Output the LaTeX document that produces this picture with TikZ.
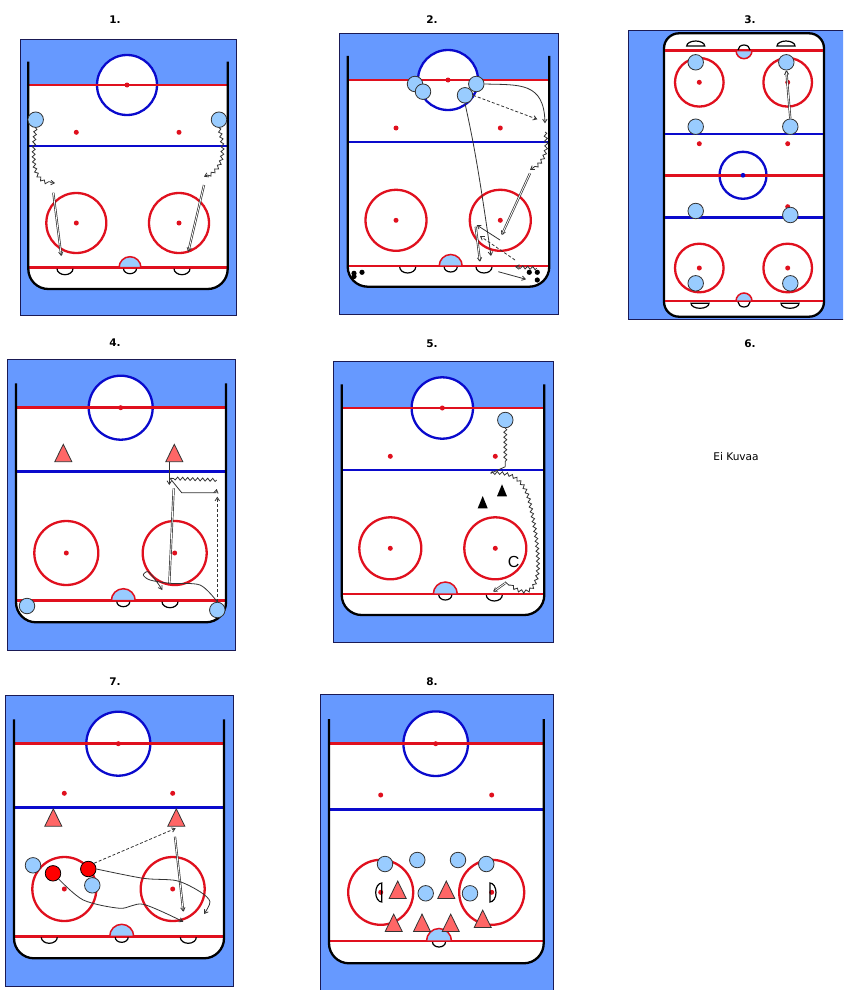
\documentclass[tikz,border=0pt]{standalone}
\usepackage{fontspec}
\setmainfont{DejaVu Sans}
\setsansfont{Liberation Sans}
\usetikzlibrary{arrows.meta,decorations.pathmorphing}
\definecolor{rinkbg}{HTML}{6699FF}
\definecolor{rinkedge}{HTML}{1A1A55}
\definecolor{rinkred}{HTML}{E0101E}
\definecolor{rinkblue}{HTML}{0A0ACC}
\definecolor{skater}{HTML}{99CCFF}
\definecolor{pylon}{HTML}{FF6666}
\definecolor{inkgrey}{HTML}{333333}

\tikzset{
  panel/.style={fill=rinkbg, draw=rinkedge, line width=0.9pt},
  boards/.style={draw=black, line width=2.3pt},
  redline/.style={draw=rinkred, line width=2.5pt},
  blueline/.style={draw=rinkblue, line width=2.5pt},
  ring/.style={draw=rinkred, line width=2.3pt},
  bluering/.style={draw=rinkblue, line width=2.3pt},
  spot/.style={fill=rinkred},
  creasefill/.style={fill=skater, draw=rinkred, line width=1.5pt},
  goalmark/.style={draw=black, line width=1.2pt},
  player/.style={circle, fill=skater, draw=inkgrey, line width=0.8pt, minimum size=15.5pt, inner sep=0pt},
  rival/.style={player, fill=red, draw=black},
  conemark/.style={fill=pylon, draw=inkgrey, line width=0.8pt},
  title/.style={font=\bfseries\fontsize{10.5}{12}\selectfont},
  skate/.style={-{Straight Barb[length=3.5pt,width=4.5pt]}, draw=inkgrey, line width=0.8pt},
  pass/.style={skate, dashed, dash pattern=on 3pt off 2pt},
  wavy/.style={skate, decorate, decoration={snake, segment length=5pt, amplitude=1.5pt, post length=3.5pt}},
  shot/.style={-{Straight Barb[length=3.5pt,width=4.5pt]}, draw=inkgrey, line width=0.7pt, double=white, double distance=0.8pt},
}

\newcommand{\rinkpanel}[4]{\draw[panel] (#1,#2) rectangle (#3,#4);}
% left, right, top of boards, centre line, blue line, goal line, bottom, centre x, radius
\newcommand{\halfrink}[9]{
  \fill[white] (#1,#4) -- (#2,#4) [rounded corners=20pt] -- (#2,#7) -- (#1,#7) -- (#1,#4) [sharp corners] -- cycle;
  \fill[white] (#8,#4) circle[radius=#9];
  \draw[bluering] (#8,#4) circle[radius=#9];
  \draw[redline] (#1,#4) -- (#2,#4);
  \draw[blueline] (#1,#5) -- (#2,#5);
  \draw[redline] (#1,#6) -- (#2,#6);
  \fill[spot] (#8,#4) circle[radius=2.5];
  \draw[boards, rounded corners=20pt] (#1,#3) -- (#1,#7) -- (#2,#7) -- (#2,#3);
}
% two x, dot y, circle y, radius
\newcommand{\faceoffs}[5]{
  \foreach \ax in {#1,#2} {
    \fill[spot] (\ax,#3) circle[radius=2.5];
    \fill[spot] (\ax,#4) circle[radius=2.5];
    \draw[ring] (\ax,#4) circle[radius=#5];
  }
}
\newcommand{\creasemark}[3]{
  \filldraw[creasefill] (#1-#3,#2) arc[start angle=180, end angle=360, radius=#3] -- cycle;
  \draw[goalmark] (#1+6.5,#2+1) arc[start angle=0, end angle=180, x radius=6.5, y radius=5];
}
\newcommand{\netmark}[2]{\draw[goalmark] (#1+8,#2+1) arc[start angle=0, end angle=180, x radius=8, y radius=6];}
\newcommand{\pylonat}[2]{\draw[conemark] (#1,#2-8.7) -- (#1+8.5,#2+8.7) -- (#1-8.5,#2+8.7) -- cycle;}

\begin{document}
\begin{tikzpicture}[x=1pt,y=-1pt]
  \clip (0,0) rectangle (843,990);
  \fill[white] (0,0) rectangle (843,990);

  \foreach \tx/\ty/\tn in {115/19.5/1, 432/19.5/2, 750/19.5/3, 115/342.5/4, 432/343.5/5, 750/343.5/6, 115/681.5/7, 432/681.5/8}
    \node[title] (head\tn) at (\tx,\ty) {\tn.};

  % 1
  \rinkpanel{20}{39.3}{236.7}{315.7}
  \halfrink{28.3}{227.7}{61.7}{85}{146}{267.7}{289}{127}{30}
  \faceoffs{76.3}{179}{132.3}{223}{30}
  \creasemark{130}{267.7}{11}
  \netmark{65}{267.7}
  \netmark{182}{267.7}
  \node[player] (oneA) at (35.7,119.7) {};
  \node[player] (oneB) at (219,119.7) {};
  \coordinate (oneC) at (55,183);
  \coordinate (oneD) at (204,176.7);
  \coordinate (oneE) at (53.3,192.7);
  \coordinate (oneF) at (61.3,256);
  \coordinate (oneG) at (204,185);
  \coordinate (oneH) at (188.3,251.7);
  \draw[wavy] (oneA.south) .. controls (31,165) and (34,182) .. (oneC);
  \draw[wavy] (oneB.south) .. controls (225,150) and (224,168) .. (oneD);
  \draw[shot] (oneE) -- (oneF);
  \draw[shot] (oneG) -- (oneH);

  % 2
  \rinkpanel{339.3}{33.3}{558.7}{314.7}
  \halfrink{347.7}{549.3}{56}{80}{142}{266}{286.7}{448}{30}
  \faceoffs{396}{500.3}{128}{220.3}{30.5}
  \creasemark{450.7}{266}{11.5}
  \netmark{407.7}{266}
  \netmark{484}{266}
  \foreach \nm/\px/\py in {twoA/415/84, twoB/423/91.7, twoC/465/95.3, twoD/476.3/84}
    \node[player] (\nm) at (\px,\py) {};
  \foreach \px/\py in {354/273.3, 354/276.5, 362/272.3, 529.3/272.3, 537.3/272.3, 537.3/280}
    \fill (\px,\py) circle[radius=2.6];
  \coordinate (twoE) at (545,123.3);
  \coordinate (twoF) at (537.3,119.3);
  \coordinate (twoG) at (491,256);
  \coordinate (twoH) at (545,132);
  \coordinate (twoI) at (530,170);
  \coordinate (twoJ) at (530,173.3);
  \coordinate (twoK) at (501.7,235);
  \coordinate (twoL) at (475.7,226.7);
  \coordinate (twoM) at (480,261.7);
  \coordinate (twoN) at (500,240);
  \coordinate (twoO) at (476.7,225);
  \coordinate (twoP) at (515,260);
  \coordinate (twoQ) at (480,236);
  \coordinate (twoR) at (498.3,271.7);
  \coordinate (twoS) at (526,279.3);
  \coordinate (twoT) at (536.7,268.3);
  \coordinate (twoU) at (515,266.7);
  \draw[skate] (twoD.east) .. controls (520,85) and (544,82) .. (twoE);
  \draw[pass] (twoC.east) -- (twoF);
  \draw[skate] (twoC.south) .. controls (473,140) and (478,165) .. (twoG);
  \draw[wavy] (twoH) .. controls (548,150) and (545,160) .. (twoI);
  \draw[shot] (twoJ) -- (twoK);
  \draw[shot] (twoL) -- (twoM);
  \draw[skate] (twoN) -- (twoO);
  \draw[pass] (twoP) -- (twoQ);
  \draw[skate] (twoR) -- (twoS);
  \draw[wavy] (twoT) -- (twoU);

  % 3
  \rinkpanel{628.3}{30.7}{850}{319.3}
  \filldraw[fill=white, boards, rounded corners=15pt] (664,33.3) rectangle (824,316.7);
  \draw[bluering] (743,175.3) circle[radius=23.5];
  \draw[redline] (665,50.7) -- (823,50.7);
  \draw[blueline] (665,134) -- (823,134);
  \draw[redline] (665,175.3) -- (823,175.3);
  \draw[blueline] (665,217.3) -- (823,217.3);
  \draw[redline] (665,301) -- (823,301);
  \fill[rinkblue] (743,175.3) circle[radius=2.4];
  \foreach \py in {143.7,206.7,82.3,268}
    \foreach \px in {699.3,787.7}
      \fill[spot] (\px,\py) circle[radius=2.5];
  \foreach \py in {82.3,268}
    \foreach \px in {699.3,787.7}
      \draw[ring] (\px,\py) circle[radius=24.3];
  \filldraw[creasefill] (736,50.7) arc[start angle=180, end angle=0, radius=8] -- cycle;
  \filldraw[creasefill] (736,301) arc[start angle=180, end angle=360, radius=8] -- cycle;
  \draw[goalmark] (738,50) arc[start angle=180, end angle=360, x radius=6, y radius=5];
  \draw[goalmark] (738,302) arc[start angle=180, end angle=0, x radius=6, y radius=5];
  \foreach \px in {695.7,786} \draw[goalmark] (\px-9,46) arc[start angle=180, end angle=360, x radius=9, y radius=5] -- cycle;
  \foreach \px in {700,790} \draw[goalmark] (\px-9,303.3) arc[start angle=180, end angle=0, x radius=9, y radius=5] -- cycle;
  \foreach \nm/\px/\py in {thrA/695.7/62.3, thrB/786.3/62.3, thrC/695.7/126.7, thrD/790.3/126.7, thrE/695.7/211, thrF/790.3/215, thrG/695.7/283.3, thrH/790.3/283.3}
    \node[player] (\nm) at (\px,\py) {};
  \draw[shot] (thrD.north) -- (thrB.south);

  % 4
  \rinkpanel{7.3}{359.3}{235.3}{650.7}
  \halfrink{16}{226}{383.3}{407.7}{471.7}{600.7}{622.3}{120.7}{32}
  \faceoffs{66.3}{174.7}{-50}{553}{32}
  \creasemark{123.3}{600.7}{12}
  \netmark{170}{600.7}
  \pylonat{63.3}{453}
  \pylonat{174.3}{453}
  \node[player] (fouA) at (27,606) {};
  \node[player] (fouB) at (217.3,610) {};
  \coordinate (fouC) at (169.3,461.7);
  \coordinate (fouD) at (169.3,485);
  \coordinate (fouE) at (216.7,480);
  \coordinate (fouF) at (170,478.3);
  \coordinate (fouG) at (181.7,492.7);
  \coordinate (fouH) at (216.7,489);
  \coordinate (fouI) at (173.7,488.3);
  \coordinate (fouJ) at (169.3,583.3);
  \coordinate (fouK) at (217.3,496.7);
  \coordinate (fouL) at (162.3,590);
  \draw[skate] (fouC) -- (fouD);
  \draw[wavy, -] (fouE) -- (fouF);
  \draw[skate] (fouF) -- (fouG) -- (216,492.7) -- (fouH);
  \draw[shot, -] (fouI) -- (fouJ);
  \draw[pass] (fouB.north) -- (fouK);
  \draw[skate] plot[smooth] coordinates {(fouB.north) (200,585) (170,583.3) (150,580) (143.3,575) (148.3,571.7) (156.7,581.7) (fouL)};

  % 5
  \rinkpanel{333.3}{361.7}{553.7}{642.3}
  \halfrink{341.7}{544.3}{384.3}{408}{470}{594}{615}{442.3}{30.7}
  \faceoffs{390.3}{495.3}{456.3}{548.3}{31}
  \creasemark{445.3}{594}{12}
  \netmark{494.3}{594}
  \fill (502,484.3) -- (507,496.3) -- (497,496.3) -- cycle;
  \fill (482.7,496) -- (487.7,508.3) -- (477.7,508.3) -- cycle;
  \node[font=\sffamily\fontsize{16}{16}\selectfont] (fivC) at (513.7,561.7) {C};
  \node[player] (fivA) at (505.3,420) {};
  \coordinate (fivB) at (505.3,466.7);
  \coordinate (fivD) at (490.7,473.3);
  \coordinate (fivE) at (505,581.7);
  \coordinate (fivF) at (505,583.3);
  \coordinate (fivG) at (493.3,591.7);
  \draw[wavy, -] (fivA.south) -- (fivB);
  \draw[skate, -] (fivB) -- (fivD);
  \draw[wavy, -] (fivD) .. controls (505,472) and (522,475) .. (528.3,501.7) .. controls (532,520) and (537,540) .. (536.7,568.3) .. controls (536,585) and (530,592) .. (522,591.7) .. controls (515,591) and (510,586) .. (fivE);
  \draw[shot] (fivF) -- (fivG);

  % 6
  \node[font=\fontsize{10.6}{12}\selectfont] (noimage) at (736,456.5) {Ei Kuvaa};

  % 7
  \rinkpanel{5.3}{695.7}{233.3}{986}
  \halfrink{14}{224}{719.3}{743.7}{807.3}{936.3}{958.3}{118.3}{32}
  \faceoffs{64.3}{172.7}{793.3}{889}{32}
  \creasemark{121.7}{936.3}{12}
  \netmark{49.3}{936.3}
  \netmark{188.3}{936.3}
  \pylonat{53.3}{817.5}
  \pylonat{176.3}{817.5}
  \node[player] (sevA) at (33,865.3) {};
  \node[rival] (sevC) at (53,873.3) {};
  \node[rival] (sevD) at (88.3,869) {};
  \node[player] (sevB) at (92.3,885.3) {};
  \coordinate (sevE) at (175.7,828.3);
  \coordinate (sevF) at (175,836.7);
  \coordinate (sevG) at (183.3,911.7);
  \coordinate (sevH) at (204,914);
  \coordinate (sevI) at (183.3,921.7);
  \draw[pass] (sevD.north east) -- (sevE);
  \draw[shot] (sevF) -- (sevG);
  \draw[skate] plot[smooth] coordinates {(sevD.east) (143.3,878.3) (176.7,880.7) (200,891.7) (210,901.7) (sevH)};
  \draw[skate] plot[smooth] coordinates {(sevC.south east) (83.3,900) (120,908.3) (143.3,904.3) (sevI)};

  % 8
  \rinkpanel{320.3}{694.3}{553.7}{1000}
  \halfrink{329}{543.7}{719}{743.7}{809.3}{941}{963.3}{435.7}{32.3}
  \faceoffs{380.7}{491.7}{795}{892.3}{32.5}
  \creasemark{439}{941}{12.5}
  \draw[goalmark] (381.7,883) arc[start angle=270, end angle=90, x radius=6, y radius=9.5] -- cycle;
  \draw[goalmark] (490,883) arc[start angle=270, end angle=450, x radius=6, y radius=9.5] -- cycle;
  \foreach \nm/\px/\py in {eigA/385/864, eigB/417.3/860, eigC/458/860, eigD/486.3/864, eigE/425.7/893.3, eigF/470/893.3}
    \node[player] (\nm) at (\px,\py) {};
  \foreach \px/\py in {397.7/889.7, 446.3/889.7, 393.7/922.8, 422/922.8, 450.7/922.8, 482.7/918.8} {
    \pylonat{\px}{\py}
  }
\end{tikzpicture}
\end{document}
